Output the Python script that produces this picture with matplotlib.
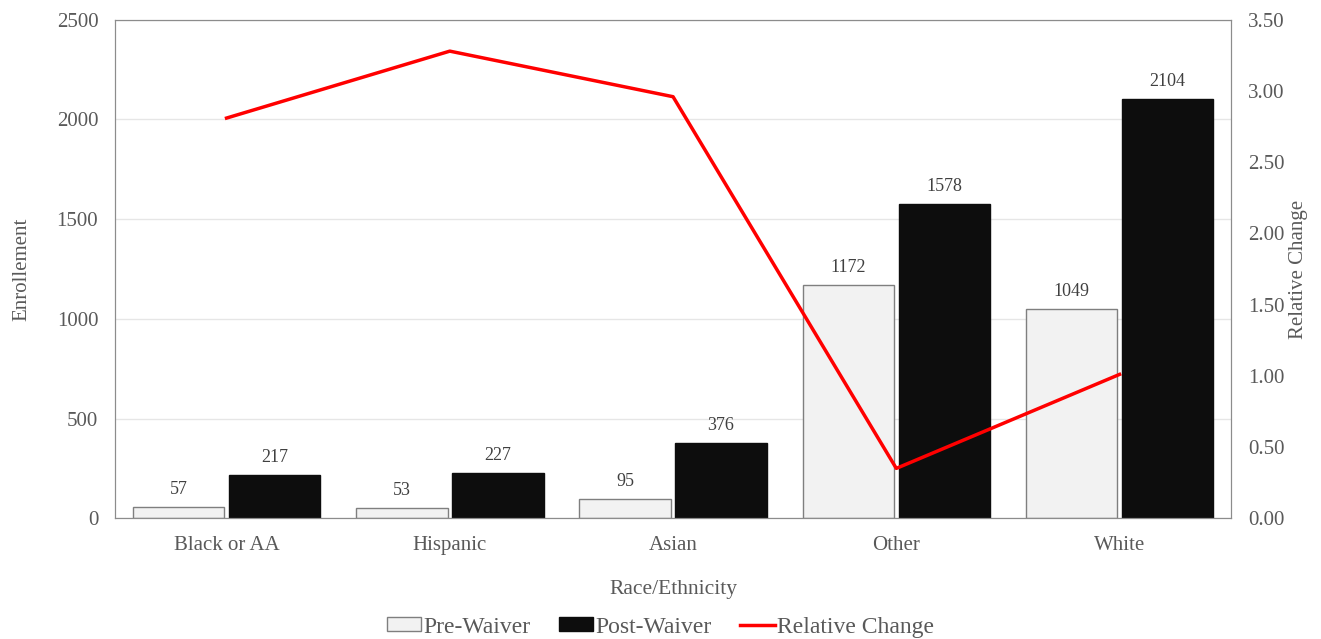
import numpy as np
import matplotlib.pyplot as plt
from matplotlib import rc

rc('font', **{'family': 'serif', 'serif': ['Liberation Serif']})

groups = ['Black or AA', 'Hispanic', 'Asian', 'Other', 'White']
pre_waiver = [57, 53, 95, 1172, 1049]
post_waiver = [217, 227, 376, 1578, 2104]
rel_change = [2.81, 3.28, 2.96, 0.35, 1.01]

grey = '#595959'
x = np.arange(len(groups))
w = 0.41

fig = plt.figure(figsize=(13.21, 6.39), dpi=100)
ax = fig.add_axes([0.087, 0.189, 0.845, 0.78])
ax2 = ax.twinx()

b1 = ax.bar(x - 0.215, pre_waiver, w, color='#f2f2f2', edgecolor='#7f7f7f', lw=1, zorder=2, label='Pre-Waiver')
b2 = ax.bar(x + 0.215, post_waiver, w, color='#0d0d0d', edgecolor='#0d0d0d', lw=1, zorder=2, label='Post-Waiver')
for bars, vals in ((b1, pre_waiver), (b2, post_waiver)):
    for r, v in zip(bars, vals):
        ax.text(r.get_x() + r.get_width()/2, v + 45, str(v), ha='center', va='bottom',
                fontsize=13, color='#404040')

ln, = ax2.plot(x, rel_change, color='#ff0000', lw=2.5, label='Relative Change')

ax.set_xlim(-0.5, 4.5)
ax.set_ylim(0, 2500)
ax.set_yticks(range(0, 2501, 500))
ax2.set_ylim(0, 3.5)
ax2.set_yticks(np.arange(0, 3.51, 0.5))
ax2.set_yticklabels(['%.2f' % t for t in np.arange(0, 3.51, 0.5)])
ax.yaxis.grid(True, color='#e6e6e6', lw=1, zorder=0)
ax.set_axisbelow(True)

ax.set_xticks(x)
ax.set_xticklabels(groups)
for a in (ax, ax2):
    a.tick_params(length=0, labelsize=15, labelcolor=grey, pad=12)
    for s in a.spines.values():
        s.set_color('#8c8c8c')
ax.tick_params(axis='x', pad=13)

ax.set_ylabel('Enrollement', fontsize=15, color=grey, labelpad=18)
ax2.set_ylabel('Relative Change', fontsize=15, color=grey, labelpad=3)
ax.set_xlabel('Race/Ethnicity', fontsize=15.5, color=grey, labelpad=18)

leg = fig.legend(handles=[b1, b2, ln], loc='lower center', bbox_to_anchor=(0.5, -0.031), ncol=3,
                 frameon=False, fontsize=17, handlelength=1.45, handleheight=0.55,
                 handletextpad=0.1, columnspacing=1.2)
for t in leg.get_texts():
    t.set_color(grey)

plt.savefig('out.png', dpi=100)
